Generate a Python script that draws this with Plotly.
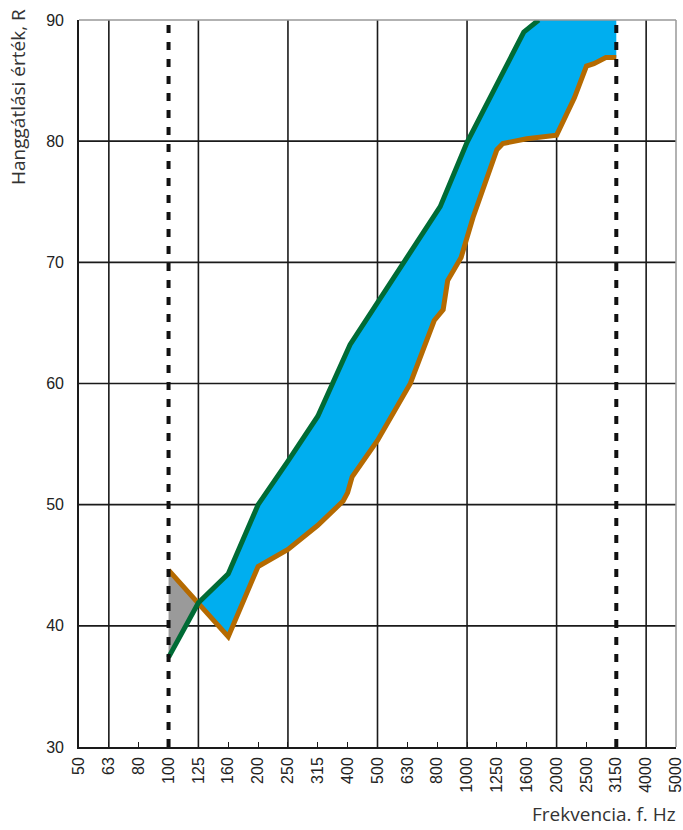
import plotly.graph_objects as go

# Frequency bands (1/3 octave), plotted at equal spacing by band index
bands = ["50", "63", "80", "100", "125", "160", "200", "250", "315", "400", "500",
         "630", "800", "1000", "1250", "1600", "2000", "2500", "3150", "4000", "5000"]

# Upper limit curve (green): band position, R value
green_x = [3, 4, 5, 6, 7, 8, 9.08, 10, 11, 12.1, 13, 14, 14.9, 15.4]
green_y = [37.4, 41.9, 44.3, 50.0, 53.6, 57.3, 63.2, 66.7, 70.5, 74.6, 79.9, 84.7, 89.0, 90.0]

# Lower limit curve (orange)
orange_x = [3, 4, 5, 6, 7, 8, 8.85, 9.0, 9.15, 10, 11.1, 11.9, 12.2, 12.35, 12.8, 13.2,
            14.0, 14.2, 15, 16, 16.6, 17, 17.25, 17.65, 18]
orange_y = [44.6, 41.9, 39.1, 44.9, 46.3, 48.3, 50.3, 51.0, 52.3, 55.3, 60.0, 65.2, 66.1,
            68.5, 70.4, 73.7, 79.3, 79.8, 80.2, 80.5, 83.6, 86.2, 86.4, 86.9, 86.9]

limit_bands = [3, 18]          # 100 Hz and 3150 Hz dashed limits
grid_bands = [1, 4, 7, 10, 13, 16, 19]
y_ticks = [30, 40, 50, 60, 70, 80, 90]
y_min, y_max = 30, 90
cross_x = 4

GREEN = "#006B35"
ORANGE = "#B56A00"
BLUE = "#00AEEF"
GRAY = "#9A9A9A"

fig = go.Figure()

# gray region (orange above green) between 100 and 125
gx = [x for x in orange_x if x <= cross_x] + [x for x in green_x if x <= cross_x][::-1]
gy = [y for x, y in zip(orange_x, orange_y) if x <= cross_x] + \
     [y for x, y in zip(green_x, green_y) if x <= cross_x][::-1]
fig.add_trace(go.Scatter(x=gx, y=gy, fill="toself", fillcolor=GRAY, mode="lines",
                         line=dict(color="rgba(120,150,170,0.8)", width=1),
                         hoverinfo="skip", showlegend=False))

# blue region (green above orange)
bx = [x for x in green_x if x >= cross_x] + [limit_bands[1]] + \
     [x for x in orange_x if x >= cross_x][::-1]
by = [y for x, y in zip(green_x, green_y) if x >= cross_x] + [y_max] + \
     [y for x, y in zip(orange_x, orange_y) if x >= cross_x][::-1]
fig.add_trace(go.Scatter(x=bx, y=by, fill="toself", fillcolor=BLUE, mode="lines",
                         line=dict(color=BLUE, width=0),
                         hoverinfo="skip", showlegend=False))

fig.add_trace(go.Scatter(x=orange_x, y=orange_y, mode="lines",
                         line=dict(color=ORANGE, width=5), showlegend=False))
fig.add_trace(go.Scatter(x=green_x, y=green_y, mode="lines",
                         line=dict(color=GREEN, width=5), showlegend=False))

shapes = []
for b in grid_bands:
    shapes.append(dict(type="line", xref="x", yref="paper", x0=b, x1=b, y0=0, y1=1,
                       line=dict(color="#1a1a1a", width=1.6), layer="below"))
for v in y_ticks[1:-1]:
    shapes.append(dict(type="line", xref="paper", yref="y", x0=0, x1=1, y0=v, y1=v,
                       line=dict(color="#1a1a1a", width=1.6), layer="below"))
# top and right frame (gray)
shapes.append(dict(type="line", xref="paper", yref="paper", x0=0, x1=1, y0=1, y1=1,
                   line=dict(color="#999999", width=1.5)))
shapes.append(dict(type="line", xref="paper", yref="paper", x0=1, x1=1, y0=0, y1=1,
                   line=dict(color="#999999", width=1.5)))
for b in limit_bands:
    shapes.append(dict(type="line", xref="x", yref="paper", x0=b, x1=b, y0=0, y1=1,
                       line=dict(color="#111111", width=4, dash="8px,9px"), layer="above"))

fig.update_layout(
    width=683, height=830,
    margin=dict(l=79, r=7, t=20, b=83),
    paper_bgcolor="white", plot_bgcolor="white",
    shapes=shapes,
    xaxis=dict(range=[0, 20], tickmode="array", tickvals=list(range(len(bands))),
               ticktext=bands, tickangle=-90, showgrid=False, zeroline=False,
               ticks="inside", ticklen=5, tickcolor="#1a1a1a", tickwidth=1,
               showline=True, linecolor="#1a1a1a", linewidth=1.6, automargin=False,
               ticklabeloverflow="allow",
               tickfont=dict(family="Liberation Sans, Arial", size=16, color="#222"),
               ticklabelstandoff=2),
    yaxis=dict(range=[y_min, y_max], tickmode="array", tickvals=y_ticks,
               showgrid=False, zeroline=False, ticks="", automargin=False,
               showline=True, linecolor="#1a1a1a", linewidth=1.6,
               tickfont=dict(family="Liberation Sans, Arial", size=16, color="#222"),
               ticklabelstandoff=10),
    annotations=[
        dict(text="Frekvencia. f. Hz", xref="paper", yref="paper",
             x=1, y=0, xanchor="right", yanchor="top", yshift=-52, xshift=2,
             showarrow=False,
             font=dict(family="Open Sans", size=19, color="#333")),
        dict(text="Hanggátlási érték, R", xref="paper", yref="paper",
             x=0, y=1, xanchor="center", yanchor="top", xshift=-61, yshift=13,
             textangle=-90, showarrow=False,
             font=dict(family="Open Sans", size=19, color="#333")),
    ],
)

fig.write_html("out.html", config={"displayModeBar": False},
               post_script="document.body.style.margin='0';document.body.style.overflow='hidden';")
